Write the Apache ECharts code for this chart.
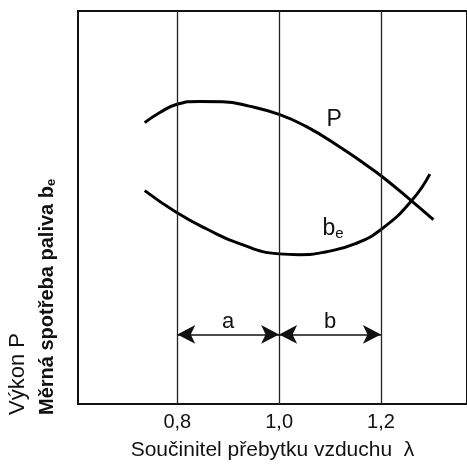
<!DOCTYPE html>
<html>
<head>
<meta charset="utf-8">
<script src="https://cdn.jsdelivr.net/npm/echarts@6/dist/echarts.min.js"></script>
<style>
  html, body { margin: 0; padding: 0; background: #fff; }
  #chart { width: 467px; height: 466px; }
</style>
</head>
<body>
<div id="chart"></div>
<script>
// lambda ticks (vertical lines + labels)
const lambdaTicks = [0.8, 1.0, 1.2]
// Výkon P  [lambda, relative value]
const powerP = [[0.736, 71.6], [0.765, 74.1], [0.798, 76.2], [0.843, 77.0], [0.889, 76.9],
    [0.941, 75.8], [1.0, 73.7], [1.052, 70.7], [1.117, 65.6], [1.169, 61.0],
    [1.202, 57.9], [1.26, 51.7], [1.303, 46.9]]
// Měrná spotřeba paliva be
const consumptionBe = [[0.736, 54.3], [0.798, 48.8], [0.857, 44.6], [0.922, 40.8], [1.0, 38.2],
    [1.039, 38.0], [1.091, 38.7], [1.15, 40.8], [1.202, 44.6], [1.26, 51.7], [1.296, 58.5]]
// ranges a and b
const rangeA = [0.8, 1.0]
const rangeB = [1.0, 1.2]
const rangeLevel = 17.7
// curve label positions
const labelP = [1.108, 72.3]
const labelBe = [1.106, 44.6]

const font = "'Liberation Sans', Arial, sans-serif"
let chart = echarts.init(document.getElementById('chart'))

let option = {
    animation: false,
    grid: {
        left: 78,
        right: -2,
        top: 11,
        bottom: 60,
        show: true,
        borderColor: '#111',
        borderWidth: 2
    },
    xAxis: {
        type: 'value',
        min: 0.605,
        max: 1.369,
        axisLine: { show: true, lineStyle: { color: '#111', width: 2 } },
        axisTick: { show: false },
        splitLine: { show: false },
        axisLabel: {
            customValues: lambdaTicks,
            margin: 8,
            color: '#111',
            fontSize: 20,
            fontFamily: font,
            formatter: v => v.toFixed(1).replace('.', ',')
        },
        name: 'Součinitel přebytku vzduchu  λ',
        nameLocation: 'middle',
        nameGap: 36,
        nameTextStyle: { color: '#111', fontSize: 21, fontFamily: font }
    },
    yAxis: {
        type: 'value',
        min: 0,
        max: 100,
        axisLine: { show: true, lineStyle: { color: '#111', width: 2 } },
        axisTick: { show: false },
        axisLabel: { show: false },
        splitLine: { show: false }
    },
    graphic: [{
        type: 'text',
        x: 18,
        y: 415,
        rotation: Math.PI / 2,
        style: {
            text: 'Výkon P',
            fill: '#111',
            font: '22px ' + font,
            align: 'left',
            verticalAlign: 'middle'
        }
    }, {
        type: 'text',
        x: 47,
        y: 415,
        rotation: Math.PI / 2,
        style: {
            text: '{m|Měrná spotřeba paliva b}{s|e}',
            fill: '#111',
            align: 'left',
            verticalAlign: 'middle',
            rich: {
                m: { fontSize: 20, fontWeight: 'bold', fontFamily: font, fill: '#111' },
                s: { fontSize: 13, fontWeight: 'bold', fontFamily: font, fill: '#111', padding: [8, 0, 0, 0] }
            }
        }
    }],
    series: [{
        name: 'P',
        type: 'line',
        smooth: true,
        showSymbol: false,
        lineStyle: { color: '#000', width: 3 },
        data: powerP,
        markLine: {
            silent: true,
            symbol: 'none',
            label: { show: false },
            lineStyle: { color: '#222', width: 1.3, type: 'solid' },
            data: lambdaTicks.map(v => ({ xAxis: v }))
        },
        markPoint: {
            silent: true,
            symbolSize: 0,
            label: { show: true, position: 'inside', formatter: 'P', color: '#111', fontSize: 23, fontFamily: font },
            data: [{ coord: labelP }]
        }
    }, {
        name: 'be',
        type: 'line',
        smooth: true,
        showSymbol: false,
        lineStyle: { color: '#000', width: 3 },
        data: consumptionBe,
        markLine: {
            silent: true,
            symbol: ['arrow', 'arrow'],
            symbolSize: [14, 18],
            lineStyle: { color: '#111', width: 1.5, type: 'solid' },
            label: { show: true, position: 'middle', distance: 2, color: '#111', fontSize: 22, fontFamily: font },
            data: [
                [{ coord: [rangeA[0], rangeLevel], name: 'a' }, { coord: [rangeA[1], rangeLevel] }],
                [{ coord: [rangeB[0], rangeLevel], name: 'b' }, { coord: [rangeB[1], rangeLevel] }]
            ]
        },
        markPoint: {
            silent: true,
            symbolSize: 0,
            label: {
                show: true,
                position: 'inside',
                formatter: 'b{s|e}',
                color: '#111',
                fontSize: 23,
                fontFamily: font,
                rich: { s: { fontSize: 15, fontFamily: font, color: '#111', padding: [10, 0, 0, 0] } }
            },
            data: [{ coord: labelBe }]
        }
    }]
}
chart.setOption(option)
</script>
</body>
</html>
